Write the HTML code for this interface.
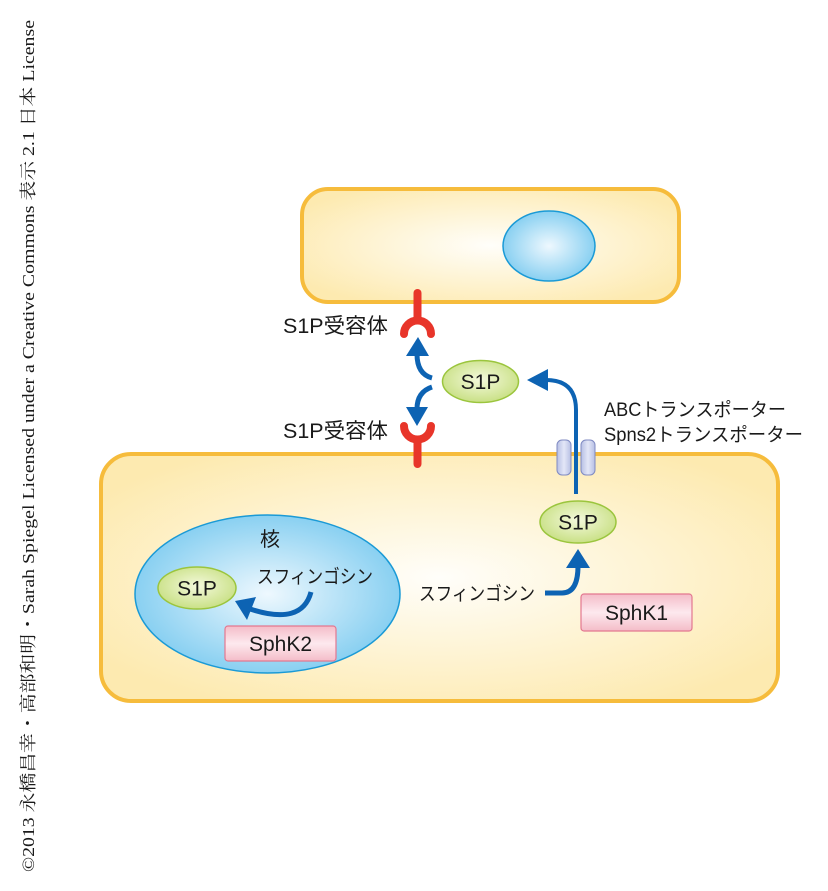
<!DOCTYPE html>
<html><head><meta charset="utf-8"><style>
html,body{margin:0;padding:0;background:#fff;}
svg{display:block;}
text{font-family:"Liberation Sans","Noto Sans CJK JP",sans-serif;fill:#1a1a1a;}
.vt{font-family:"Liberation Serif","Noto Serif CJK SC",serif;}
</style></head><body>
<svg width="828" height="891" viewBox="0 0 828 891" xmlns="http://www.w3.org/2000/svg">
<defs>
<radialGradient id="cell" cx="50%" cy="50%" r="60%">
<stop offset="0" stop-color="#fffefa"/><stop offset="1" stop-color="#fdeab0"/></radialGradient>
<radialGradient id="nuc" cx="50%" cy="50%" r="55%">
<stop offset="0" stop-color="#eef8fe"/><stop offset="1" stop-color="#7fccf0"/></radialGradient>
<radialGradient id="grn" cx="50%" cy="45%" r="60%">
<stop offset="0" stop-color="#f4f9dc"/><stop offset="1" stop-color="#c5de7e"/></radialGradient>
<linearGradient id="pnk" x1="0" y1="0" x2="0" y2="1">
<stop offset="0" stop-color="#f4bcc8"/><stop offset="0.5" stop-color="#fde9ee"/><stop offset="1" stop-color="#f4bcc8"/></linearGradient>
<linearGradient id="cap" x1="0" y1="0" x2="1" y2="0">
<stop offset="0" stop-color="#b7bfe4"/><stop offset="0.5" stop-color="#e3e7f7"/><stop offset="1" stop-color="#b7bfe4"/></linearGradient>
</defs>

<!-- vertical copyright -->
<text class="vt" transform="translate(34,872) rotate(-90)" font-size="17" textLength="852" lengthAdjust="spacingAndGlyphs">©2013 永橋昌幸・高部和明・Sarah Spiegel Licensed under a Creative Commons 表示 2.1 日本 License</text>

<!-- top cell -->
<rect x="302" y="189" width="377" height="113" rx="26" fill="url(#cell)" stroke="#f6bc3c" stroke-width="4"/>
<ellipse cx="549" cy="246" rx="46" ry="35" fill="url(#nuc)" stroke="#1a9ad6" stroke-width="1.5"/>

<!-- bottom cell -->
<rect x="101" y="454" width="677" height="247" rx="30" fill="url(#cell)" stroke="#f6bc3c" stroke-width="4"/>

<!-- receptors -->
<g stroke="#e8352a" stroke-width="8" fill="none" stroke-linecap="round">
<line x1="417.5" y1="293" x2="417.5" y2="318"/>
<path d="M404,334 A13.5,13.5 0 0 1 431,334"/>
<line x1="417.5" y1="440" x2="417.5" y2="464"/>
<path d="M404,426 A13.5,13.5 0 0 0 431,426"/>
</g>

<text x="283" y="333" font-size="21" textLength="105" lengthAdjust="spacingAndGlyphs">S1P受容体</text>
<text x="283" y="438" font-size="21" textLength="105" lengthAdjust="spacingAndGlyphs">S1P受容体</text>

<!-- transporter -->
<rect x="557" y="440" width="14" height="35" rx="5" fill="url(#cap)" stroke="#7f8ac2" stroke-width="1"/>
<rect x="581" y="440" width="14" height="35" rx="5" fill="url(#cap)" stroke="#7f8ac2" stroke-width="1"/>

<!-- arrows -->
<g stroke="#0d63b3" stroke-width="5" fill="none">
<path d="M432,378 Q417,374 417,354"/>
<path d="M432,387 Q417,392 417,409"/>
<path d="M576,494 L576,410 Q576,380 546,380" stroke-width="4"/>
<path d="M545,593 L562,593 Q578,593 578,566"/>
</g>
<g fill="#0d63b3">
<polygon points="418,337 406,356 429,356"/>
<polygon points="406,407 428,407 417,426"/>
<polygon points="527,380 548,369 548,391"/>
<polygon points="578,549 566,568 590,568"/>
</g>

<!-- S1P middle -->
<ellipse cx="480.5" cy="381.5" rx="38" ry="21" fill="url(#grn)" stroke="#9bc53d" stroke-width="1.5"/>
<text x="480.5" y="389" font-size="21" text-anchor="middle">S1P</text>

<text x="604" y="416" font-size="19" textLength="182" lengthAdjust="spacingAndGlyphs">ABCトランスポーター</text>
<text x="604" y="441" font-size="19" textLength="199" lengthAdjust="spacingAndGlyphs">Spns2トランスポーター</text>

<!-- S1P right -->
<ellipse cx="578" cy="522" rx="38" ry="21" fill="url(#grn)" stroke="#9bc53d" stroke-width="1.5"/>
<text x="578" y="529.5" font-size="21" text-anchor="middle">S1P</text>

<text x="419" y="600" font-size="19" textLength="116" lengthAdjust="spacingAndGlyphs">スフィンゴシン</text>

<rect x="581" y="594" width="111" height="37" rx="3" fill="url(#pnk)" stroke="#e37890" stroke-width="1.2"/>
<text x="636.5" y="620" font-size="21" text-anchor="middle">SphK1</text>

<!-- nucleus big -->
<ellipse cx="267.5" cy="594" rx="132.5" ry="79" fill="url(#nuc)" stroke="#1a9ad6" stroke-width="1.5"/>
<text x="270" y="546" font-size="20" text-anchor="middle">核</text>
<text x="257" y="583" font-size="19" textLength="116" lengthAdjust="spacingAndGlyphs">スフィンゴシン</text>
<ellipse cx="197" cy="588" rx="39" ry="21" fill="url(#grn)" stroke="#9bc53d" stroke-width="1.5"/>
<text x="197" y="595.5" font-size="21" text-anchor="middle">S1P</text>

<path d="M311,592 Q302,626 250,609" stroke="#0d63b3" stroke-width="5" fill="none"/>
<polygon points="235,601 256,597 247,620" fill="#0d63b3"/>

<rect x="225" y="626" width="111" height="35" rx="3" fill="url(#pnk)" stroke="#e37890" stroke-width="1.2"/>
<text x="280.5" y="651" font-size="21" text-anchor="middle">SphK2</text>
</svg>
</body></html>
